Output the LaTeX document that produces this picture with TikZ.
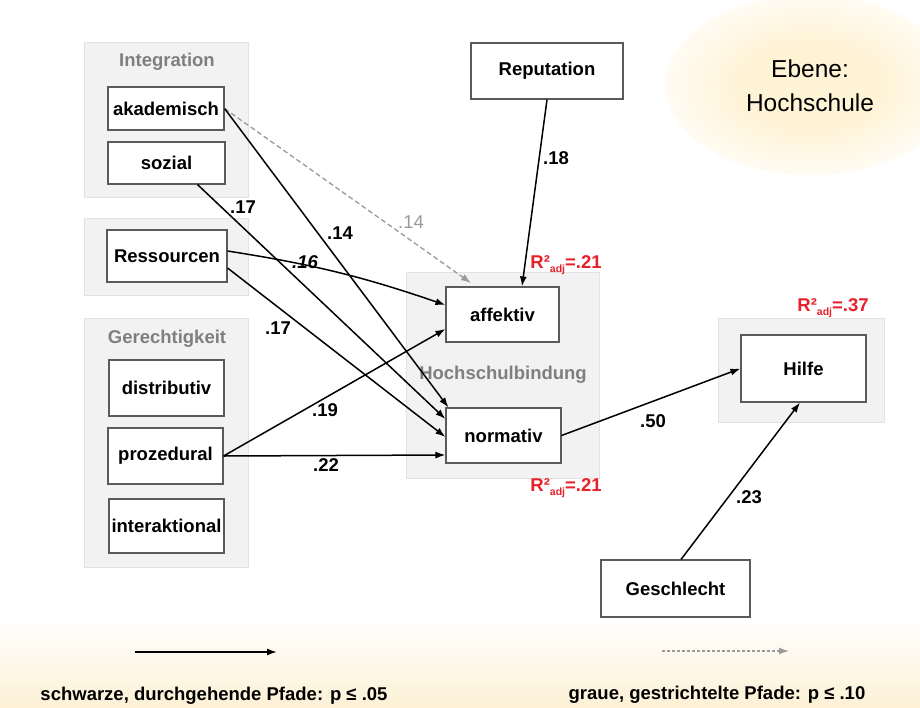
\documentclass[tikz,border=0pt]{standalone}
\usepackage{fontspec}
\setmainfont{Liberation Sans}
\usetikzlibrary{arrows.meta}

\definecolor{grpfill}{HTML}{F2F2F2}
\definecolor{grpline}{HTML}{E2E2E2}
\definecolor{grptext}{HTML}{7F7F7F}
\definecolor{boxline}{HTML}{5A5A5A}
\definecolor{rsqred}{HTML}{E8202A}
\definecolor{dashgray}{HTML}{9A9A9A}
\definecolor{glowc}{HTML}{FFF3D6}
\definecolor{bandc}{HTML}{FDF1D6}

% soft glow behind the level label: core colour fading to white before the rim
\pgfdeclareradialshading{softglow}{\pgfpoint{0bp}{0bp}}{%
  color(0bp)=(glowc); color(12bp)=(glowc); color(30bp)=(white); color(50bp)=(white)}

\begin{document}
\begin{tikzpicture}[x=1pt,y=-1pt,
  grp/.style={draw=grpline, fill=grpfill, line width=0.8pt, inner sep=0pt},
  box/.style={draw=boxline, fill=white, line width=1.1pt, inner sep=0pt,
    font=\bfseries\fontsize{18.5}{21}\selectfont},
  grplabel/.style={text=grptext, inner sep=0pt,
    font=\bfseries\fontsize{18.5}{21}\selectfont},
  coef/.style={inner sep=0pt, font=\bfseries\fontsize{18.5}{21}\selectfont},
  rsq/.style={text=rsqred, inner sep=0pt, font=\bfseries\fontsize{18.5}{21}\selectfont},
  legendtext/.style={inner sep=0pt, font=\bfseries\fontsize{18.5}{21}\selectfont},
  sigpath/.style={draw=black, line width=1.5pt, -{Latex[length=10pt,width=7pt]}},
  weakpath/.style={draw=dashgray, line width=1.3pt, dash pattern=on 5pt off 3pt,
    -{Latex[length=10pt,width=7pt]}},
]
\useasboundingbox (0,0) rectangle (920,707);
\fill[white] (0,0) rectangle (920,707);

% glow and bottom band
\shade[shading=softglow] (810,85) ellipse [x radius=145pt, y radius=90pt];
\shade[top color=white, bottom color=bandc] (0,618) rectangle (920,707);

% group panels
\node[grp, minimum width=164pt, minimum height=155pt] (gInt) at (166,119.5) {};
\node[grp, minimum width=164pt, minimum height=77pt]  (gRes) at (166,256.5) {};
\node[grp, minimum width=164pt, minimum height=249pt] (gGer) at (166,442.5) {};
\node[grp, minimum width=193pt, minimum height=206pt] (gHb)  at (502.5,375) {};
\node[grp, minimum width=166pt, minimum height=104pt] (gHi)  at (801,370) {};

\node[grplabel] (lInt) at (167,62) {Integration};
\node[grplabel] (lGer) at (167,339) {Gerechtigkeit};
\node[grplabel] (lHb)  at (503,375) {Hochschulbindung};

% variables
\node[box, minimum width=116pt, minimum height=43pt] (akad)   at (166,108.5) {akademisch};
\node[box, minimum width=117pt, minimum height=42pt] (sozial) at (166.5,163) {sozial};
\node[box, minimum width=120pt, minimum height=52pt] (ress)   at (167,256) {Ressourcen};
\node[box, minimum width=115pt, minimum height=56pt] (distr)  at (166.5,388) {distributiv};
\node[box, minimum width=115pt, minimum height=56pt] (proz)   at (165.5,456) {prozedural};
\node[box, minimum width=115pt, minimum height=54pt] (inter)  at (166.5,526) {interaktional};
\node[box, minimum width=113pt, minimum height=55pt] (aff)    at (502.5,314.5) {affektiv};
\node[box, minimum width=115pt, minimum height=55pt] (norm)   at (503.5,435.5) {normativ};
\node[box, minimum width=152pt, minimum height=56pt] (rep)    at (547,71) {Reputation};
\node[box, minimum width=125pt, minimum height=67pt] (hilfe)  at (803.5,368.5) {Hilfe};
\node[box, minimum width=149pt, minimum height=57pt] (geschl) at (675.5,588.5) {Geschlecht};

% level label
\node[inner sep=0pt, align=center, font=\fontsize{24.5}{34}\selectfont] (ebene) at (810,86)
  {Ebene:\\Hochschule};

% paths
\coordinate (dashEnd) at (471,283);
\draw[weakpath] (akad.east) -- (dashEnd);
\draw[sigpath] (akad.east) -- ([xshift=3pt]norm.north west);
\draw[sigpath] ([xshift=31pt]sozial.south) -- ([yshift=16.5pt]norm.west);
\draw[sigpath] ([yshift=5pt]ress.east) to[bend left=5] ([yshift=9.5pt]aff.west);
\draw[sigpath] ([yshift=-12pt]ress.east) -- ([yshift=-1.5pt]norm.west);
\draw[sigpath] (proz.east) -- ([yshift=-14.5pt]aff.west);
\draw[sigpath] (proz.east) -- ([yshift=-19.5pt]norm.west);
\draw[sigpath] (rep.south) -- ([xshift=19.5pt]aff.north);
\draw[sigpath] (norm.east) -- (hilfe.west);
\draw[sigpath] ([xshift=5.5pt]geschl.north) -- ([xshift=-3.5pt]hilfe.south);

% coefficients
\node[coef] (c1) at (243,207) {.17};
\node[coef] (c2) at (340,233) {.14};
\node[coef, text=dashgray, font=\fontsize{18.5}{21}\selectfont] (c3) at (411,222) {.14};
\node[coef, font=\bfseries\itshape\fontsize{18.5}{21}\selectfont] (c4) at (305,262) {.16};
\node[coef] (c5) at (278,328) {.17};
\node[coef] (c6) at (325,410) {.19};
\node[coef] (c7) at (326,465) {.22};
\node[coef] (c8) at (556,158) {.18};
\node[coef] (c9) at (653,421) {.50};
\node[coef] (c10) at (749,497) {.23};

% explained variance
\node[rsq] (r1) at (566,265) {R²\raisebox{-4pt}{\fontsize{10.5}{11}\selectfont adj}=.21};
\node[rsq] (r2) at (566,488) {R²\raisebox{-4pt}{\fontsize{10.5}{11}\selectfont adj}=.21};
\node[rsq] (r3) at (833,308) {R²\raisebox{-4pt}{\fontsize{10.5}{11}\selectfont adj}=.37};

% legend
\coordinate (ls1) at (135,652);
\coordinate (le1) at (277,652);
\coordinate (ls2) at (662,651);
\coordinate (le2) at (789,651);
\draw[sigpath, line width=1.6pt] (ls1) -- (le1);
\draw[weakpath, dash pattern=on 3pt off 2pt] (ls2) -- (le2);
\node[legendtext] (t1) at (214,696) {schwarze, durchgehende Pfade: p ≤ .05};
\node[legendtext] (t2) at (717,695) {graue, gestrichtelte Pfade: p ≤ .10};
\end{tikzpicture}
\end{document}
